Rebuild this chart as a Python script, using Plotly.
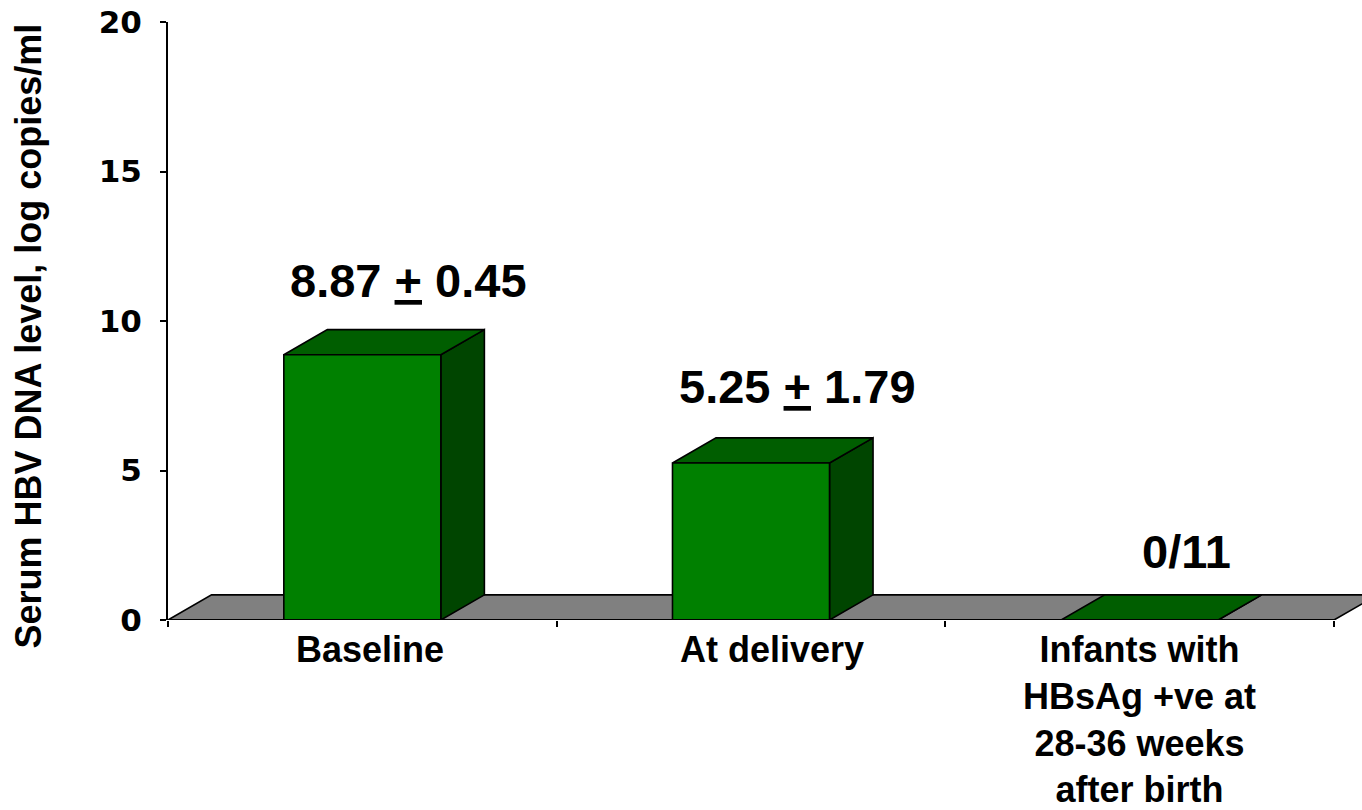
import plotly.graph_objects as go

# ---- data ----
categories = ["Baseline", "At delivery", "Infants with<br>HBsAg +ve at<br>28-36 weeks<br>after birth"]
values = [8.87, 5.25, 0.0]
value_labels = ["8.87 <u>+</u> 0.45", "5.25 <u>+</u> 1.79", "0/11"]
y_ticks = [0, 5, 10, 15, 20]
y_title = "Serum HBV DNA level, log copies/ml"

# ---- geometry / style ----
FONT = "Liberation Sans, Arial, sans-serif"
FRONT = "#008000"
TOP = "#005E00"
SIDE = "#004500"
FLOOR = "#808080"
HALF_W = 0.202          # half bar width (category units)
DX = 0.112              # depth offset x (category units)
DY = 0.84               # depth offset y (value units)
X_MAX = 2.5 + 28 / 388.7

fig = go.Figure()

def poly(xs, ys, color):
    fig.add_trace(go.Scatter(
        x=xs + [xs[0]], y=ys + [ys[0]], mode="lines", fill="toself",
        fillcolor=color, line=dict(color="black", width=1.6),
        hoverinfo="skip", showlegend=False))

# floor
n = len(categories)
poly([-0.5, n - 0.5, n - 0.5 + DX, -0.5 + DX], [0, 0, DY, DY], FLOOR)

# bars
for i, v in enumerate(values):
    l, r = i - HALF_W, i + HALF_W
    poly([r, r + DX, r + DX, r], [0, DY, v + DY, v], SIDE)
    poly([l, r, r + DX, l + DX], [v, v, v + DY, v + DY], TOP)
    if v > 0:
        poly([l, r, r, l], [0, 0, v, v], FRONT)

# x axis line
fig.add_trace(go.Scatter(x=[-0.5, n - 0.5], y=[0, 0], mode="lines",
                         line=dict(color="black", width=2),
                         hoverinfo="skip", showlegend=False))

# value labels
label_dy = [2.5, 2.55, 2.3]
for i, (v, t) in enumerate(zip(values, value_labels)):
    fig.add_annotation(x=i + 0.12, y=v + label_dy[i], text=f"<b>{t}</b>", showarrow=False,
                       xanchor="center", yanchor="middle",
                       font=dict(family=FONT, size=47, color="black"))

# category labels
label_dx = [0.02, 0.055, 0.0]
for i, c in enumerate(categories):
    fig.add_annotation(x=i + label_dx[i], y=0, text=f"<b>{c}</b>", showarrow=False,
                       xanchor="center", yanchor="top", yshift=-7,
                       font=dict(family=FONT, size=36, color="black"))

# y title
fig.add_annotation(xref="paper", yref="paper", x=(28 - 168) / 1194,
                   y=(620 - 336.5) / 598, text=f"<b>{y_title}</b>", textangle=-90,
                   showarrow=False, xanchor="center", yanchor="middle",
                   font=dict(family=FONT, size=36, color="black"))

fig.update_layout(
    width=1362, height=810, autosize=False,
    margin=dict(l=168, r=0, t=22, b=190, pad=0),
    paper_bgcolor="white", plot_bgcolor="white",
    xaxis=dict(range=[-0.5, X_MAX], showgrid=False, zeroline=False, showline=False,
               tickmode="array", tickvals=[k - 0.5 for k in range(n + 1)],
               ticktext=[""] * (n + 1), ticks="outside", ticklen=6, tickwidth=2,
               tickcolor="black", fixedrange=True),
    yaxis=dict(range=[0, 20], tickmode="array", tickvals=y_ticks,
               ticktext=[str(t) for t in y_ticks],
               showgrid=False, zeroline=False, showline=True, linewidth=2,
               linecolor="black", ticks="outside", ticklen=6, tickwidth=2,
               tickcolor="black", ticklabelstandoff=12,
               tickfont=dict(family="DejaVu Sans, sans-serif", size=31, color="black",
                             weight="bold"),
               fixedrange=True),
)

fig.write_html("out.html")
